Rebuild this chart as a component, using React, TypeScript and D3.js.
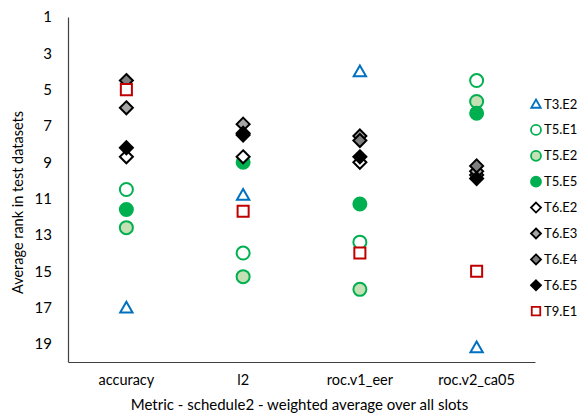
import React, { useEffect, useRef } from 'react';
import * as d3 from 'd3';

// metrics on the x axis
const categories = ['accuracy', 'l2', 'roc.v1_eer', 'roc.v2_ca05'];
const yTicks = [1, 3, 5, 7, 9, 11, 13, 15, 17, 19];

// average rank per metric, one array per series
const t3e2 = [17.0, 10.8, 4.0, 19.2];
const t5e1 = [10.5, 14.0, 13.4, 4.5];
const t5e2 = [12.6, 15.3, 16.0, 5.65];
const t5e5 = [11.6, 9.0, 11.3, 6.3];
const t6e2 = [8.7, 8.7, 9.0, 9.7];
const t6e3 = [6.0, 6.9, 7.55, 9.5];
const t6e4 = [4.5, 7.4, 7.8, 9.2];
const t6e5 = [8.2, 7.5, 8.7, 9.9];
const t9e1 = [5.0, 11.7, 14.0, 15.0];

const series = [
  { name: 'T3.E2', values: t3e2, shape: 'triangle', stroke: '#0070C0', fill: '#ffffff' },
  { name: 'T5.E1', values: t5e1, shape: 'circle', stroke: '#00B050', fill: '#ffffff' },
  { name: 'T5.E2', values: t5e2, shape: 'circle', stroke: '#00B050', fill: '#C5E0B4' },
  { name: 'T5.E5', values: t5e5, shape: 'circle', stroke: '#00B050', fill: '#00B050' },
  { name: 'T6.E2', values: t6e2, shape: 'diamond', stroke: '#000000', fill: '#ffffff' },
  { name: 'T6.E3', values: t6e3, shape: 'diamond', stroke: '#000000', fill: '#A6A6A6' },
  { name: 'T6.E4', values: t6e4, shape: 'diamond', stroke: '#000000', fill: '#7F7F7F' },
  { name: 'T6.E5', values: t6e5, shape: 'diamond', stroke: '#000000', fill: '#000000' },
  { name: 'T9.E1', values: t9e1, shape: 'square', stroke: '#C00000', fill: '#ffffff' },
];

// marker glyph centred on 0,0 with half-size r
const markerPath = (shape: string, r: number) => {
  const p = d3.path();
  if (shape === 'circle') {
    p.arc(0, 0, r, 0, Math.PI * 2);
  } else if (shape === 'diamond') {
    p.moveTo(0, -r); p.lineTo(r, 0); p.lineTo(0, r); p.lineTo(-r, 0); p.closePath();
  } else if (shape === 'square') {
    p.rect(-r * 0.85, -r * 0.85, r * 1.7, r * 1.7);
  } else {
    p.moveTo(0, -r * 0.9); p.lineTo(r * 0.95, r * 0.75); p.lineTo(-r * 0.95, r * 0.75); p.closePath();
  }
  return p.toString();
};

const App = () => {
  const ref = useRef<SVGSVGElement>(null);

  useEffect(() => {
    document.body.style.margin = '0';
    const width = 584;
    const height = 416;
    const margin = { left: 68, right: 49, top: 17, bottom: 54 };
    const font = 'Lato, "Open Sans", sans-serif';

    const svg = d3.select(ref.current).attr('width', width).attr('height', height);
    svg.selectAll('*').remove();

    const x = d3.scaleBand()
      .domain(categories)
      .range([margin.left, width - margin.right]);

    const y = d3.scaleLinear()
      .domain([1, 20])
      .range([margin.top, height - margin.bottom]);

    // axes
    const yAxis = svg.append('g')
      .attr('transform', `translate(${margin.left},0)`)
      .call(d3.axisLeft(y).tickValues(yTicks).tickSize(0).tickPadding(16));
    yAxis.select('.domain').attr('stroke', '#404040').attr('stroke-width', 1.2);
    yAxis.selectAll('text').attr('font-size', 15).attr('font-family', font).attr('fill', '#000');

    const xAxis = svg.append('g')
      .attr('transform', `translate(0,${height - margin.bottom})`)
      .call(d3.axisBottom(x).tickSize(0).tickPadding(13));
    xAxis.select('.domain').attr('stroke', '#404040').attr('stroke-width', 1.2);
    xAxis.selectAll('text').attr('font-size', 14.5).attr('font-family', font).attr('fill', '#000');

    svg.append('text')
      .attr('x', (margin.left + width - margin.right) / 2 - 2)
      .attr('y', 410)
      .attr('text-anchor', 'middle')
      .attr('font-size', 15)
      .attr('font-family', font)
      .text('Metric - schedule2 - weighted average over all slots');

    svg.append('text')
      .attr('transform', `translate(23,${(margin.top + height - margin.bottom) / 2 + 13}) rotate(-90)`)
      .attr('text-anchor', 'middle')
      .attr('font-size', 14.5)
      .attr('font-family', font)
      .text('Average rank in test datasets');

    // markers
    series.forEach(s => {
      svg.append('g')
        .selectAll('path')
        .data(s.values)
        .join('path')
        .attr('transform', (d, i) => `translate(${x(categories[i])! + x.bandwidth() / 2},${y(d)})`)
        .attr('d', markerPath(s.shape, 6.5))
        .attr('fill', s.fill)
        .attr('stroke', s.stroke)
        .attr('stroke-width', 2);
    });

    // legend
    const legend = svg.append('g').attr('transform', 'translate(536,104)');
    const item = legend.selectAll('g')
      .data(series)
      .join('g')
      .attr('transform', (d, i) => `translate(0,${i * 25.9})`);
    item.append('path')
      .attr('d', d => markerPath(d.shape, 5))
      .attr('fill', d => d.fill)
      .attr('stroke', d => d.stroke)
      .attr('stroke-width', 1.8);
    item.append('text')
      .attr('x', 8)
      .attr('dy', '0.35em')
      .attr('font-size', 13)
      .attr('font-family', font)
      .text(d => d.name);
  }, []);

  return <svg ref={ref}></svg>;
};

export default App;
